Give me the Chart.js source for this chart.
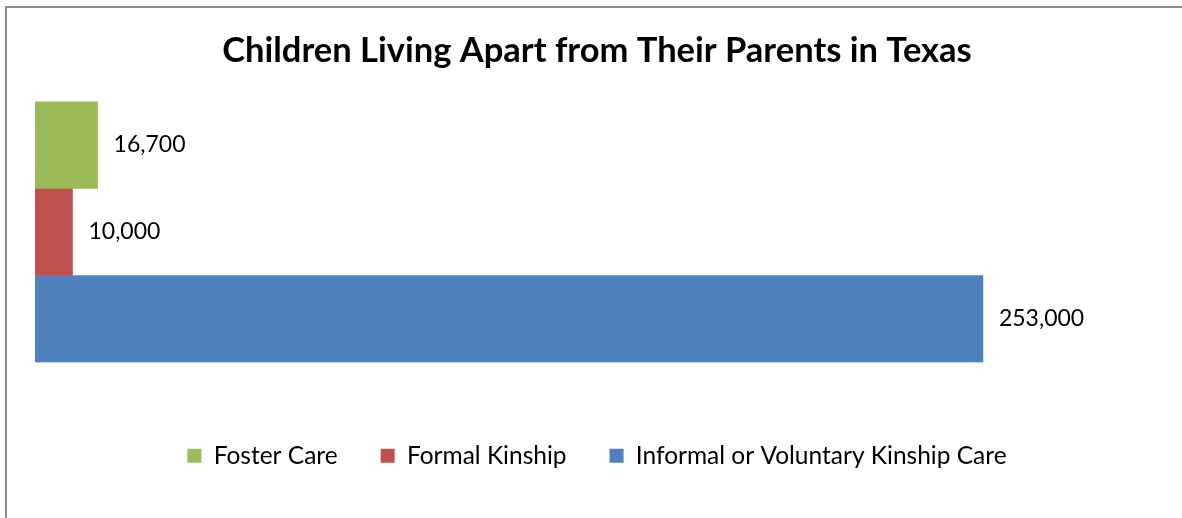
<!DOCTYPE html>
<html>
<head>
<meta charset="utf-8">
<script src="https://cdn.jsdelivr.net/npm/chart.js@4"></script>
<style>
  html, body { margin: 0; padding: 0; background: #fff; }
  #wrap { width: 1182px; height: 518px; position: relative; }
</style>
</head>
<body>
<div id="wrap"><canvas id="chart" width="1182" height="518"></canvas></div>
<script>
// data
var categories = ["Texas"];
var seriesNames = ["Foster Care", "Formal Kinship", "Informal or Voluntary Kinship Care"];
var seriesValues = [16700, 10000, 253000];
var seriesColors = ["#9BBB59", "#C0504D", "#4F81BD"];
var axisMax = 300000;

// frame lines (left + top only, like the source picture)
const framePlugin = {
  id: "frame",
  beforeDraw: function (chart) {
    const c = chart.ctx;
    c.save();
    c.fillStyle = "#fff";
    c.fillRect(0, 0, chart.width, chart.height);
    c.strokeStyle = "#8c8c8c";
    c.lineWidth = 2;
    c.beginPath();
    c.moveTo(6, chart.height);
    c.lineTo(6, 7);
    c.lineTo(chart.width, 7);
    c.stroke();
    c.restore();
  },
};

// value labels at bar ends
const valueLabels = {
  id: "valueLabels",
  afterDatasetsDraw: function (chart) {
    const c = chart.ctx;
    c.save();
    c.font = "23px Lato";
    c.fillStyle = "#000";
    c.textBaseline = "middle";
    chart.data.datasets.forEach((ds, i) => {
      const meta = chart.getDatasetMeta(i);
      meta.data.forEach((bar, j) => {
        c.fillText(ds.data[j].toLocaleString("en-US"), bar.x + 16, bar.y);
      });
    });
    c.restore();
  },
};

const ctx = document.getElementById("chart").getContext("2d");
const chart = new Chart(ctx, {
  type: "bar",
  data: {
    labels: categories,
    datasets: seriesNames.map((name, i) => ({
      label: name,
      data: [seriesValues[i]],
      backgroundColor: seriesColors[i],
      categoryPercentage: 1,
      barPercentage: 1,
    })),
  },
  options: {
    indexAxis: "y",
    responsive: false,
    animation: false,
    layout: { padding: { left: 35, right: 23, top: 30, bottom: 40 } },
    scales: {
      x: { display: false, min: 0, max: axisMax },
      y: { display: false },
    },
    plugins: {
      title: {
        display: true,
        text: "Children Living Apart from Their Parents in Texas",
        color: "#000",
        font: { family: "Lato", size: 34.5, weight: "bold" },
        padding: { top: 0, bottom: 30 },
      },
      legend: {
        position: "bottom",
        title: {
          display: true,
          text: " ",
          font: { size: 10 },
          padding: { top: 26, bottom: 0 },
        },
        labels: {
          color: "#000",
          font: { family: "Lato", size: 24.5 },
          boxWidth: 14,
          boxHeight: 14,
          padding: 43,
        },
      },
      tooltip: { enabled: false },
    },
  },
  plugins: [framePlugin, valueLabels],
});
</script>
</body>
</html>
